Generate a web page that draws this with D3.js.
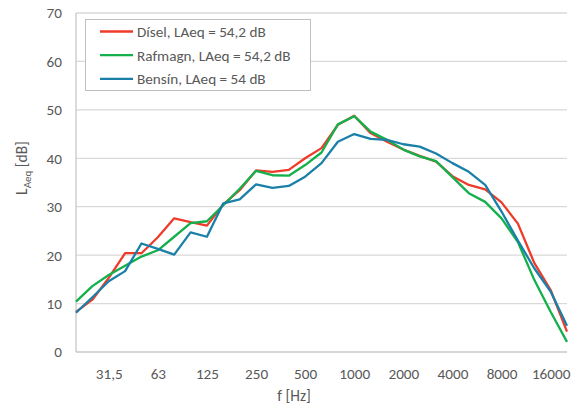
<!DOCTYPE html>
<html>
<head>
<meta charset="utf-8">
<script src="https://cdn.jsdelivr.net/npm/d3@7"></script>
<style>
  html, body { margin: 0; padding: 0; background: #fff; }
  svg { display: block; }
  text { font-family: Carlito, Lato, "Noto Sans", sans-serif; fill: #595959; }
</style>
</head>
<body>
<svg id="chart" width="580" height="414"></svg>
<script>
// Third-octave band centre frequencies (Hz)
const freqs = ["20","25","31,5","40","50","63","80","100","125","160","200","250","315","400","500",
  "630","800","1000","1250","1600","2000","2500","3150","4000","5000","6300","8000","10000","12500","16000","20000"];
// Bands whose labels are printed on the axis
const labelledBands = ["31,5","63","125","250","500","1000","2000","4000","8000","16000"];
const yTicks = [0, 10, 20, 30, 40, 50, 60, 70];

// A-weighted band levels, dB
const disel = [8.3, 10.8, 15.3, 20.4, 20.4, 23.7, 27.6, 26.8, 26.1, 30.5, 33.4, 37.5, 37.2, 37.6, 40.0,
  42.1, 46.9, 48.8, 45.2, 43.4, 41.8, 40.5, 39.3, 36.3, 34.5, 33.6, 30.9, 26.5, 18.4, 12.8, 4.2];
const rafmagn = [10.4, 13.6, 15.9, 17.8, 19.7, 21.0, 23.8, 26.6, 27.0, 30.3, 33.7, 37.4, 36.5, 36.4, 38.6,
  41.2, 47.0, 48.7, 45.5, 43.8, 41.8, 40.4, 39.4, 36.1, 32.8, 31.0, 27.6, 22.7, 14.9, 8.3, 2.1];
const bensin = [8.1, 11.3, 14.6, 16.7, 22.4, 21.3, 20.1, 24.7, 23.8, 30.7, 31.5, 34.6, 33.9, 34.3, 36.2,
  39.0, 43.4, 45.0, 44.0, 43.8, 42.9, 42.4, 41.0, 39.0, 37.2, 34.5, 29.0, 23.0, 17.3, 12.5, 5.4];

const seriesNames = ["Dísel, LAeq = 54,2 dB", "Rafmagn, LAeq = 54,2 dB", "Bensín, LAeq = 54 dB"];
const seriesColors = ["#EE3B2A", "#13B04B", "#1A80A8"];
const series = [disel, rafmagn, bensin].map((values, k) => ({ name: seriesNames[k], color: seriesColors[k], values }));

const svg = d3.select("#chart");
const plot = { left: 76, right: 567, top: 13, bottom: 352 };

const x = d3.scalePoint().domain(freqs).range([plot.left, plot.right]);
const y = d3.scaleLinear().domain([0, 70]).range([plot.bottom, plot.top]);

// Horizontal gridlines
svg.append("g")
  .selectAll("line")
  .data(yTicks.filter(d => d > 0))
  .join("line")
  .attr("x1", plot.left).attr("x2", plot.right)
  .attr("y1", d => y(d)).attr("y2", d => y(d))
  .attr("stroke", "#d9d9d9").attr("stroke-width", 1.3);

// Axis lines
svg.append("line")
  .attr("x1", plot.left).attr("x2", plot.right)
  .attr("y1", y(0)).attr("y2", y(0))
  .attr("stroke", "#c8c8c8").attr("stroke-width", 1.3);
svg.append("line")
  .attr("x1", plot.left).attr("x2", plot.left)
  .attr("y1", y(0)).attr("y2", y(70))
  .attr("stroke", "#c8c8c8").attr("stroke-width", 1.3);

// Y axis labels
const yAxis = d3.axisLeft(y).tickValues(yTicks).tickSize(0).tickPadding(14);
const gy = svg.append("g").attr("transform", `translate(${plot.left},0)`).call(yAxis);
gy.select(".domain").remove();
gy.selectAll("text").style("font-size", "15.2px").style("font-family", null).attr("fill", "#595959");

// X axis labels
const xAxis = d3.axisBottom(x).tickValues(labelledBands).tickSize(0).tickPadding(16);
const gx = svg.append("g").attr("transform", `translate(0,${plot.bottom})`).call(xAxis);
gx.select(".domain").remove();
gx.selectAll("text").style("font-size", "15.2px").style("font-family", null).attr("fill", "#595959");

// Axis titles
svg.append("text")
  .attr("x", 294).attr("y", 401)
  .attr("text-anchor", "middle")
  .style("font-size", "15.5px")
  .text("f [Hz]");

const yTitle = svg.append("text")
  .attr("transform", "translate(27,168) rotate(-90)")
  .attr("text-anchor", "middle")
  .style("font-size", "15.5px");
yTitle.append("tspan").text("L");
yTitle.append("tspan").attr("dy", 4).style("font-size", "11px").text("Aeq");
yTitle.append("tspan").attr("dy", -4).text(" [dB]");

// Series lines
const line = d3.line().x((d, i) => x(freqs[i])).y(d => y(d));
svg.append("g")
  .selectAll("path")
  .data(series)
  .join("path")
  .attr("d", d => line(d.values))
  .attr("fill", "none")
  .attr("stroke", d => d.color)
  .attr("stroke-width", 2.3)
  .attr("stroke-linejoin", "round");

// Legend
const legend = svg.append("g").attr("transform", "translate(85,19)");
legend.append("rect")
  .attr("x", 0.5).attr("y", 0.5)
  .attr("width", 225).attr("height", 71)
  .attr("fill", "#fff").attr("stroke", "#bfbfbf").attr("stroke-width", 1);
const items = legend.selectAll("g.item")
  .data(series)
  .join("g")
  .attr("class", "item")
  .attr("transform", (d, i) => `translate(0,${12.5 + i * 23.7})`);
items.append("line")
  .attr("x1", 15).attr("x2", 48)
  .attr("y1", 0).attr("y2", 0)
  .attr("stroke", d => d.color).attr("stroke-width", 2.3);
items.append("text")
  .attr("x", 52).attr("y", 0).attr("dy", "0.35em")
  .style("font-size", "15.2px")
  .text(d => d.name);
</script>
</body>
</html>
